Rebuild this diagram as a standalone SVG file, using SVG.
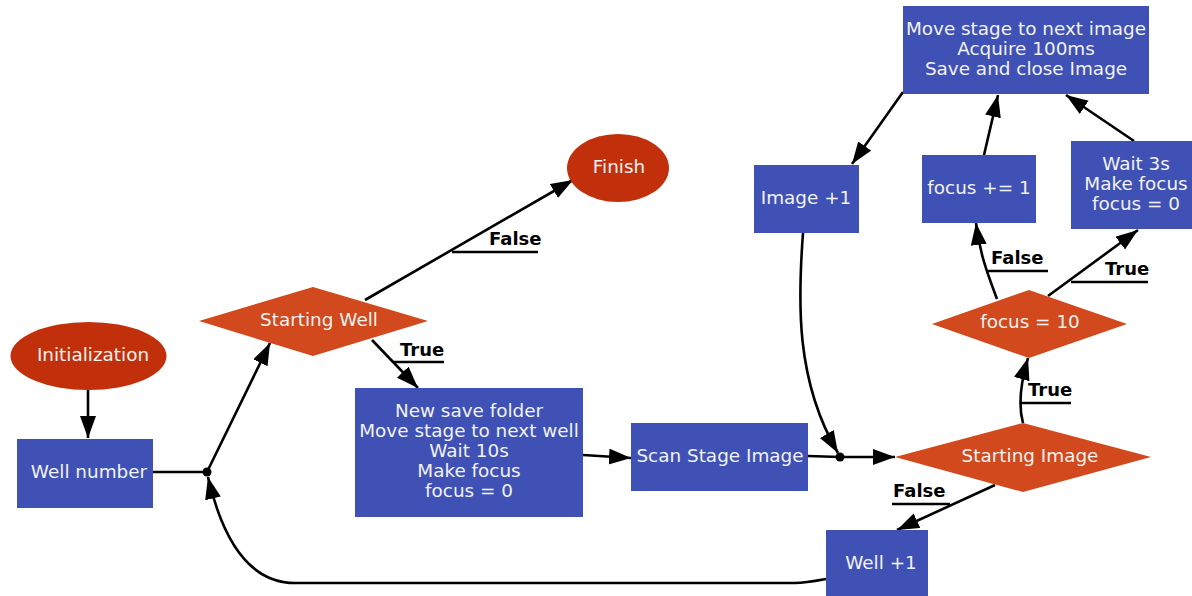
<svg xmlns="http://www.w3.org/2000/svg" width="1192" height="596" viewBox="0 0 1192 596">
<defs>
<marker id="arr" markerUnits="userSpaceOnUse" markerWidth="24" markerHeight="18" refX="22" refY="8" orient="auto">
<path d="M0,0 L22,8 L0,16 z" fill="#000"/>
</marker>
<style>
.box{fill:#3f51b5;}
.ell{fill:#c1300a;}
.dia{fill:#d1491c;}
.t{font-family:"DejaVu Sans",sans-serif;font-size:18.4px;fill:#f2f2f2;text-anchor:middle;}
.e{fill:none;stroke:#000;stroke-width:2.6;}
.a{marker-end:url(#arr);}
.lb{font-family:"DejaVu Sans",sans-serif;font-size:18px;font-weight:bold;fill:#000;}
.ul{stroke:#000;stroke-width:2.6;}
</style>
</defs>
<rect width="1192" height="596" fill="#fff"/>
<g id="connectors">
<path class="e a" d="M88,390 L88,438"/>
<path class="e" d="M153,472 L207,472"/>
<path class="e a" d="M207,472 L270,343"/>
<path class="e a" d="M365,300 L573,180"/>
<path class="e a" d="M372,340 L418,388"/>
<path class="e a" d="M583,455 L631,458"/>
<path class="e" d="M808,456 L840,457"/>
<path class="e a" d="M840,457 L895,457"/>
<path class="e a" d="M803,233 C798,300 795,380 838,453"/>
<path class="e a" d="M1023,423 C1018,405 1020,385 1028,358"/>
<path class="e a" d="M995,485 L897,530"/>
<path class="e a" d="M826,579 C810,582 805,583 795,583 L295,583 C255,583 225,550 208,477"/>
<path class="e a" d="M997,299 C988,275 980,255 976,223"/>
<path class="e a" d="M1048,296 L1138,230"/>
<path class="e a" d="M903,92 L852,164"/>
<path class="e a" d="M984,155 L998,95"/>
<path class="e a" d="M1134,141 L1066,95"/>
<circle cx="207" cy="472" r="4.5" fill="#000"/>
<circle cx="840" cy="457" r="4.5" fill="#000"/>
<text class="lb" x="489" y="245">False</text>
<line class="ul" x1="452" y1="252" x2="538" y2="252"/>
<text class="lb" x="400" y="356">True</text>
<line class="ul" x1="393" y1="362" x2="444" y2="362"/>
<text class="lb" x="1028" y="396">True</text>
<line class="ul" x1="1020" y1="403" x2="1071" y2="403"/>
<text class="lb" x="893" y="497">False</text>
<line class="ul" x1="892" y1="504" x2="950" y2="504"/>
<text class="lb" x="991" y="264">False</text>
<line class="ul" x1="988" y1="271" x2="1048" y2="271"/>
<text class="lb" x="1105" y="275">True</text>
<line class="ul" x1="1071" y1="282" x2="1148" y2="282"/>
</g>
<g id="initialization">
<ellipse class="ell" cx="88.5" cy="356" rx="78" ry="34"/>
<text class="t" x="93" y="361">Initialization</text>
</g>
<g id="well-number">
<rect class="box" x="17" y="439" width="136" height="69"/>
<text class="t" x="89" y="478">Well number</text>
</g>
<g id="starting-well">
<polygon class="dia" points="199,321 313,287 428,321 313,356"/>
<text class="t" x="319" y="326">Starting Well</text>
</g>
<g id="finish">
<ellipse class="ell" cx="618" cy="168" rx="51" ry="34"/>
<text class="t" x="619" y="173">Finish</text>
</g>
<g id="new-save-folder">
<rect class="box" x="355" y="388" width="228" height="129"/>
<text class="t" x="469" y="417">New save folder</text>
<text class="t" x="469" y="437">Move stage to next well</text>
<text class="t" x="469" y="457">Wait 10s</text>
<text class="t" x="469" y="477">Make focus</text>
<text class="t" x="469" y="497"> focus = 0</text>
</g>
<g id="scan-stage-image">
<rect class="box" x="631" y="423" width="177" height="68"/>
<text class="t" x="720" y="462">Scan Stage Image</text>
</g>
<g id="starting-image">
<polygon class="dia" points="895,457 1023,423 1151,457 1023,492"/>
<text class="t" x="1030" y="462">Starting Image</text>
</g>
<g id="focus-10">
<polygon class="dia" points="932,324 1029,290 1127,324 1029,358"/>
<text class="t" x="1030" y="328">focus = 10</text>
</g>
<g id="well-plus-1">
<rect class="box" x="826" y="530" width="102" height="70"/>
<text class="t" x="881" y="569">Well +1</text>
</g>
<g id="image-plus-1">
<rect class="box" x="754" y="165" width="105" height="68"/>
<text class="t" x="806" y="204">Image +1</text>
</g>
<g id="move-stage">
<rect class="box" x="903" y="6" width="246" height="88"/>
<text class="t" x="1026" y="35">Move stage to next image</text>
<text class="t" x="1026" y="55">Acquire 100ms</text>
<text class="t" x="1026" y="75"> Save and close Image</text>
</g>
<g id="focus-plus-1">
<rect class="box" x="922" y="155" width="114" height="68"/>
<text class="t" x="979" y="194">focus += 1</text>
</g>
<g id="wait-3s">
<rect class="box" x="1071" y="141" width="130" height="88"/>
<text class="t" x="1136" y="170">Wait 3s</text>
<text class="t" x="1136" y="190">Make focus</text>
<text class="t" x="1136" y="210"> focus = 0</text>
</g>
</svg>
